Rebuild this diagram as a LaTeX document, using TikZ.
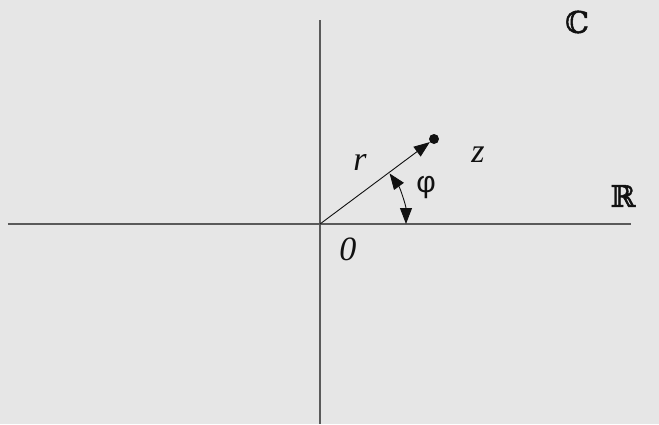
\documentclass[tikz,border=0pt]{standalone}
\usepackage{fontspec}
\setmainfont{Liberation Serif}
\newfontfamily\phifont{Liberation Sans}
\newfontfamily\setfont[FakeBold=1.5]{DejaVu Serif}
\usetikzlibrary{arrows.meta,calc}
\definecolor{bgC}{HTML}{E6E6E6}
\definecolor{axisC}{HTML}{5A5A5A}
\definecolor{darkC}{HTML}{111111}

\begin{document}
\begin{tikzpicture}[
  x=1pt, y=1pt,
  >={Triangle[length=16pt, width=12pt]},
  axis/.style={draw=axisC, line width=1.2pt},
  vec/.style={draw=darkC, line width=0.9pt},
  lbl/.style={font=\fontsize{34}{38}\selectfont\itshape, text=darkC, inner sep=0pt},
  set/.style={font=\setfont\fontsize{30}{34}\selectfont, text=darkC, inner sep=0pt},
]
\useasboundingbox[fill=bgC] (-320,-200) rectangle (339,224);

% ── Axes ──
\coordinate (O) at (0,0);
\coordinate (xl) at (-312,0);
\coordinate (xr) at (311,0);
\coordinate (yt) at (0,204);
\coordinate (yb) at (0,-200);
\draw[axis] (xl) -- (xr);
\draw[axis] (yt) -- (yb);

% ── Point z and its radius vector ──
\node[circle, fill=darkC, inner sep=0pt, minimum size=10pt] (pt) at (114,85) {};
\draw[vec, ->] (O) -- (pt);

% ── Angle ──
\draw[vec, <->] ($(O)+(0:86)$) arc[start angle=0, end angle=36, radius=86];

% ── Labels ──
\node[lbl] (r) at (40,62) {r};
\node[lbl] (z) at (158,69) {z};
\node[font=\phifont\fontsize{30}{34}\selectfont, text=darkC, inner sep=0pt] (phi) at (106,36) {φ};
\node[lbl] (zero) at (28,-25) {0};
\node[set] (C) at (257,202) {ℂ};
\node[set] (R) at (303,28) {ℝ};
\end{tikzpicture}
\end{document}
